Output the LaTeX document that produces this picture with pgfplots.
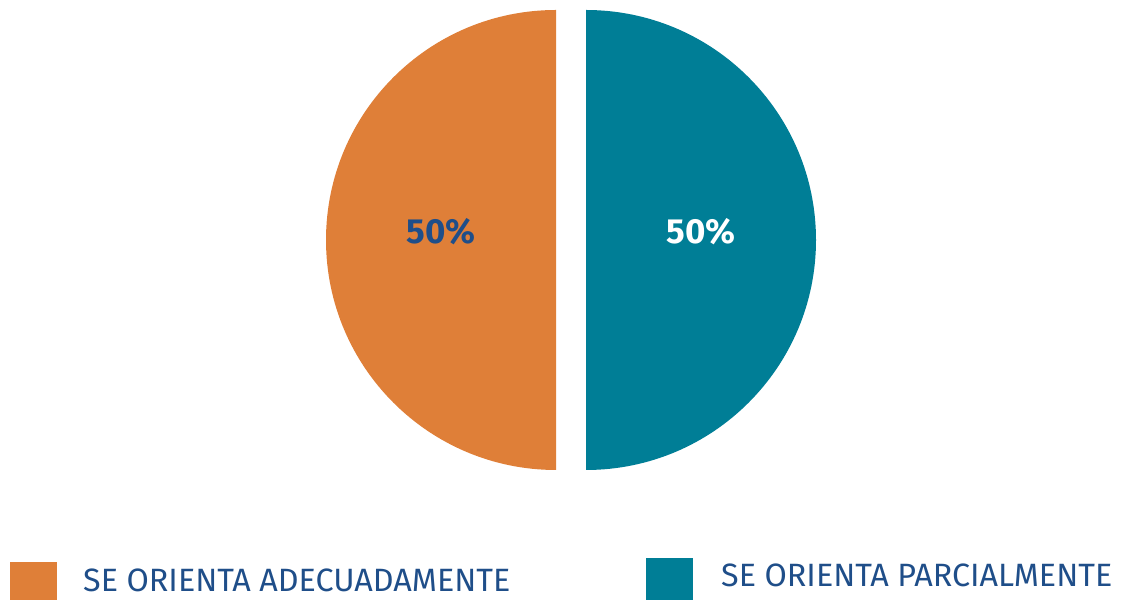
\documentclass[border=0pt]{standalone}
\usepackage{pgfplots}
\pgfplotsset{compat=1.18}
\usepackage{pgfplotstable}
\usepackage{fontspec}
\setmainfont{Fira Sans}
\definecolor{corange}{RGB}{223,127,56}
\definecolor{cteal}{RGB}{0,126,150}
\definecolor{ctext}{RGB}{31,78,137}
\pgfplotstableread[col sep=comma]{
label,value
SE ORIENTA ADECUADAMENTE,50
SE ORIENTA PARCIALMENTE,50
}\piedata
\begin{document}
\begin{tikzpicture}
\pgfplotstablegetelem{0}{value}\of\piedata\let\va\pgfplotsretval
\pgfplotstablegetelem{1}{value}\of\piedata\let\vb\pgfplotsretval
\pgfmathsetmacro{\tot}{\va+\vb}
\pgfmathsetmacro{\anga}{360*(\va/\tot)}
\pgfmathsetmacro{\angb}{360*(\vb/\tot)}
\begin{axis}[
  x=1bp, y=1bp,
  xmin=0, xmax=1121, ymin=0, ymax=600,
  hide axis, clip=false,
  scale only axis,
]
\path (axis cs:0,0) rectangle (axis cs:1121,600);
% orange slice
\fill[corange] (axis cs:556,360) -- ++(90:230bp) arc[start angle=90, delta angle=\anga, radius=230bp] -- cycle;
% teal slice
\fill[cteal] (axis cs:586,360) -- ++(-90:230bp) arc[start angle=-90, delta angle=\angb, radius=230bp] -- cycle;
\node[font=\fontsize{35}{40}\selectfont\bfseries, text=ctext] at (axis cs:441,368) {\va\%};
\node[font=\fontsize{35}{40}\selectfont\bfseries, text=white] at (axis cs:701,368) {\vb\%};
% legend
\fill[corange] (axis cs:10,0) rectangle (axis cs:57,38);
\fill[cteal] (axis cs:646,0) rectangle (axis cs:693,42);
\node[anchor=base west, inner sep=0pt, font=\fontsize{32.4}{36}\selectfont, text=ctext] at (axis cs:83,8) {SE ORIENTA ADECUADAMENTE};
\node[anchor=base west, inner sep=0pt, font=\fontsize{32.4}{36}\selectfont, text=ctext] at (axis cs:721,13) {SE ORIENTA PARCIALMENTE};
\end{axis}
\end{tikzpicture}
\end{document}
